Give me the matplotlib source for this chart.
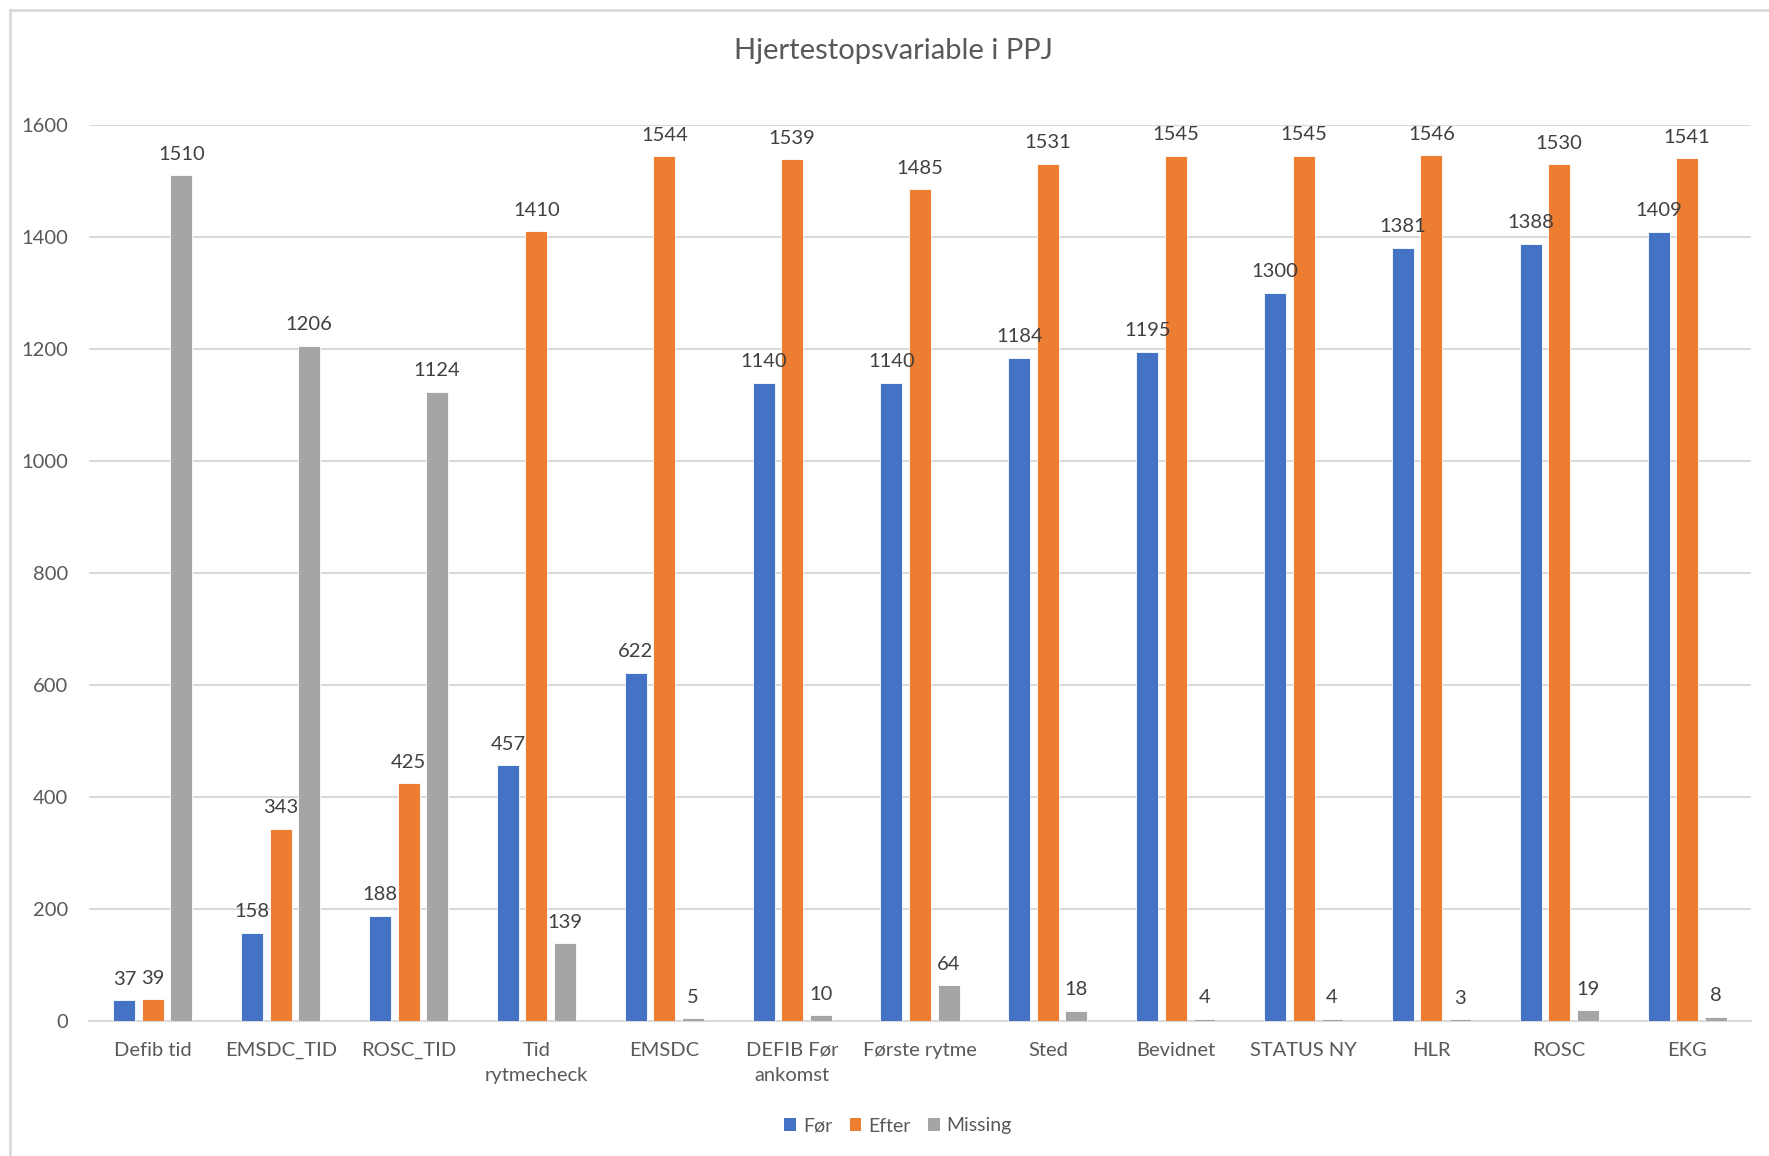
import matplotlib
matplotlib.use("Agg")
import matplotlib.pyplot as plt
from matplotlib.patches import Patch
from matplotlib.lines import Line2D
import numpy as np

plt.rcParams['font.family'] = ['Lato', 'DejaVu Sans']

categories = ["Defib tid", "EMSDC_TID", "ROSC_TID", "Tid\nrytmecheck", "EMSDC",
              "DEFIB Før\nankomst", "Første rytme", "Sted", "Bevidnet", "STATUS NY",
              "HLR", "ROSC", "EKG"]
foer = [37, 158, 188, 457, 622, 1140, 1140, 1184, 1195, 1300, 1381, 1388, 1409]
efter = [39, 343, 425, 1410, 1544, 1539, 1485, 1531, 1545, 1545, 1546, 1530, 1541]
missing = [1510, 1206, 1124, 139, 5, 10, 64, 18, 4, 4, 3, 19, 8]
series_names = ["Før", "Efter", "Missing"]
y_ticks = [0, 200, 400, 600, 800, 1000, 1200, 1400, 1600]

colors = ["#4472C4", "#ED7D31", "#A5A5A5"]
text_color = "#595959"
grid_color = "#D9D9D9"

W, H = 1769, 1156
fig = plt.figure(figsize=(W / 100, H / 100), dpi=100)
ax = fig.add_axes([89 / W, (H - 1021) / H, (1751 - 89) / W, (1021 - 125) / H])

x = np.arange(len(categories))
offset = 0.223
width = 0.172
for k, (vals, col) in enumerate(zip([foer, efter, missing], colors)):
    pos = x + (k - 1) * offset
    bars = ax.bar(pos, vals, width=width, color=col, edgecolor="white",
                  linewidth=0.6, zorder=3)
    for b, v in zip(bars, vals):
        ax.annotate(str(v), (b.get_x() + b.get_width() / 2, v),
                    xytext=(0, 9), textcoords="offset points",
                    ha="center", va="bottom", fontsize=14.5,
                    color="#404040", zorder=4, annotation_clip=False)

ax.set_xlim(-0.5, len(categories) - 0.5)
ax.set_ylim(0, 1600)
ax.set_yticks(y_ticks)
ax.set_yticklabels([str(t) for t in y_ticks])
ax.set_xticks(x)
ax.set_xticklabels(categories, linespacing=1.6)
ax.tick_params(axis="y", length=0, pad=15, labelsize=14.5, labelcolor=text_color)
ax.tick_params(axis="x", length=0, pad=15, labelsize=14.5, labelcolor=text_color)
ax.grid(axis="y", color=grid_color, linewidth=1.5, zorder=0)
ax.set_axisbelow(True)
for s in ["top", "right", "left"]:
    ax.spines[s].set_visible(False)
ax.spines["bottom"].set_color(grid_color)
ax.spines["bottom"].set_linewidth(1.5)

fig.text(893 / W, 1 - 51 / H, "Hjertestopsvariable i PPJ", ha="center",
         va="center", fontsize=21, color=text_color)

handles = [Patch(facecolor=c, edgecolor="none") for c in colors]
fig.legend(handles, series_names, loc="center", bbox_to_anchor=(898 / W, (H - 1126) / H),
           ncol=3, frameon=False, fontsize=14, handlelength=0.6, handleheight=0.6,
           handletextpad=0.35, columnspacing=0.9, labelcolor=text_color)

# outer chart frame (left and top edges)
fig.add_artist(Line2D([9.5 / W, 9.5 / W], [0, 1 - 9.5 / H], color=grid_color,
                      linewidth=2, transform=fig.transFigure))
fig.add_artist(Line2D([9.5 / W, 1], [1 - 9.5 / H, 1 - 9.5 / H], color=grid_color,
                      linewidth=2, transform=fig.transFigure))

fig.savefig("out.png", dpi=100, facecolor="white")
